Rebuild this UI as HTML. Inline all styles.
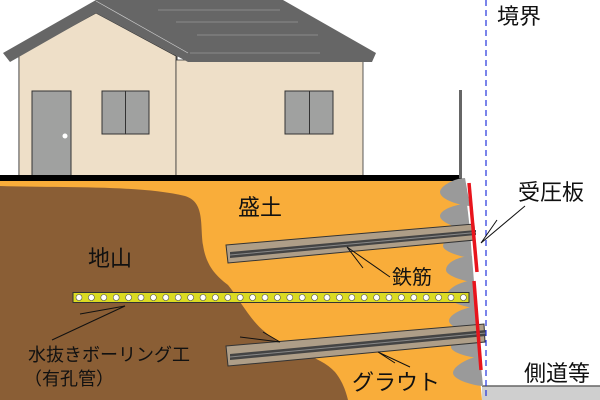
<!DOCTYPE html>
<html><head><meta charset="utf-8"><style>
html,body{margin:0;padding:0;background:#fff}
svg{display:block}
text{font-family:"Liberation Sans","Noto Sans CJK JP",sans-serif;fill:#111}
</style></head><body>
<svg width="600" height="400" viewBox="0 0 600 400" xmlns="http://www.w3.org/2000/svg">
<polygon points="0,178 462,178 482,400 0,400" fill="#f9ad3a"/>
<path d="M0,186 C60,188 140,185 185,196 C205,202 200,225 203,245 C206,265 215,275 228,285 C240,300 250,320 265,332 C285,350 320,355 335,372 C343,382 346,392 348,400 L0,400 Z" fill="#8a5e35"/>
<rect x="482" y="386" width="118" height="14" fill="#cfcfcf"/>
<line x1="482" y1="386" x2="600" y2="386" stroke="#666" stroke-width="1.5"/>
<rect x="19" y="55" width="158" height="122" fill="#eedfc8" stroke="#333" stroke-width="1"/>
<polygon points="19,55 96,13 176,56 176,177 19,177" fill="#eedfc8" stroke="#333" stroke-width="0.8"/>
<rect x="176" y="60" width="187" height="117" fill="#eedfc8" stroke="#333" stroke-width="0.8"/>
<polygon points="96,0 283,0 376,53 372,62 188,62 96,13 10,62 3,53" fill="#666"/>
<line x1="96" y1="1" x2="188" y2="53" stroke="#ccc" stroke-width="0.7"/>
<line x1="158" y1="10" x2="280" y2="10" stroke="#999" stroke-width="0.8"/>
<line x1="176" y1="22" x2="298" y2="22" stroke="#999" stroke-width="0.8"/>
<line x1="197" y1="35" x2="318" y2="35" stroke="#999" stroke-width="0.8"/>
<line x1="190" y1="53" x2="320" y2="53" stroke="#999" stroke-width="0.8"/>
<rect x="32" y="91" width="39" height="85" fill="#a0a1a0" stroke="#333"/>
<circle cx="65" cy="136" r="2.5" fill="#fff"/>
<rect x="102" y="91" width="47" height="43" fill="#a0a1a0" stroke="#333"/>
<line x1="125.5" y1="91" x2="125.5" y2="134" stroke="#333"/>
<rect x="285" y="91" width="48" height="43" fill="#a0a1a0" stroke="#333"/>
<line x1="309.5" y1="91" x2="309.5" y2="134" stroke="#333"/>
<rect x="0" y="175" width="462" height="6" fill="#000"/>
<rect x="459" y="90" width="3" height="88" fill="#666"/>
<g fill="#9a9a9a">
<path d="M465,178 C455,178 440,186 440,192 C440,200 462,206 470,206 Z"/>
<path d="M467,204 C455,204 440,210 440,216 C440,223 462,230 470,230 Z"/>
<path d="M470,230 C458,232 443,240 443,246 C443,252 465,258 472,258 Z"/>
<path d="M472,256 C460,256 446,262 446,270 C446,276 466,282 474,282 Z"/>
<path d="M473,280 C460,282 447,288 447,296 C447,302 468,308 476,308 Z"/>
<path d="M476,306 C464,308 449,314 449,321 C449,327 470,334 478,334 Z"/>
<path d="M478,332 C466,334 451,340 451,347 C451,353 472,358 480,358 Z"/>
<path d="M480,356 C468,358 453,366 453,373 C453,380 475,386 483,386 Z"/>
</g>
<polygon points="226,245 474,224 475,240 228,263" fill="#ae9e88" stroke="#333" stroke-width="1"/>
<polygon points="230,252 476,230 476,235 230,258" fill="#444"/>
<line x1="230" y1="255" x2="476" y2="232.5" stroke="#888" stroke-width="1"/>
<polygon points="226,346 484,324 485,342 228,366" fill="#ae9e88" stroke="#333" stroke-width="1"/>
<polygon points="230,354 486,330 486,336 230,360" fill="#444"/>
<line x1="230" y1="357" x2="486" y2="333" stroke="#888" stroke-width="1"/>
<rect x="73" y="292.5" width="396" height="10" fill="#dbdb22" stroke="#333" stroke-width="1"/>
<line x1="469" y1="183" x2="477" y2="272" stroke="#e8141c" stroke-width="3.5"/>
<line x1="474" y1="281" x2="481" y2="370" stroke="#e8141c" stroke-width="3.5"/>
<line x1="486" y1="0" x2="486" y2="400" stroke="#2233dd" stroke-width="1.2" stroke-dasharray="6,4"/>
<g stroke="#111" stroke-width="1" fill="none">
<polyline points="525,206 481,243 497,220"/>
<polyline points="363,268 347,247 390,277"/>
<polyline points="52,340 125,306 80,314"/>
<polyline points="240,337 280,342 263,332"/>
<polyline points="395,363 378,352 410,367"/>
</g>
<text x="238" y="215" font-size="22">盛土</text>
<text x="88" y="266" font-size="22">地山</text>
<text x="392" y="284" font-size="20">鉄筋</text>
<text x="518" y="200" font-size="22">受圧板</text>
<text x="497" y="24" font-size="22">境界</text>
<text x="524" y="381" font-size="22">側道等</text>
<text x="352" y="390" font-size="22">グラウト</text>
<text x="28" y="361" font-size="18">水抜きボーリング工</text>
<text x="24" y="385" font-size="18">（有孔管）</text>
<g fill="#fff" stroke="#555" stroke-width="0.6">
<circle cx="79" cy="297.5" r="3"/><circle cx="91.4" cy="297.5" r="3"/><circle cx="103.8" cy="297.5" r="3"/><circle cx="116.2" cy="297.5" r="3"/><circle cx="128.6" cy="297.5" r="3"/><circle cx="141" cy="297.5" r="3"/><circle cx="153.4" cy="297.5" r="3"/><circle cx="165.8" cy="297.5" r="3"/><circle cx="178.2" cy="297.5" r="3"/><circle cx="190.6" cy="297.5" r="3"/><circle cx="203" cy="297.5" r="3"/><circle cx="215.4" cy="297.5" r="3"/><circle cx="227.8" cy="297.5" r="3"/><circle cx="240.2" cy="297.5" r="3"/><circle cx="252.6" cy="297.5" r="3"/><circle cx="265" cy="297.5" r="3"/><circle cx="277.4" cy="297.5" r="3"/><circle cx="289.8" cy="297.5" r="3"/><circle cx="302.2" cy="297.5" r="3"/><circle cx="314.6" cy="297.5" r="3"/><circle cx="327" cy="297.5" r="3"/><circle cx="339.4" cy="297.5" r="3"/><circle cx="351.8" cy="297.5" r="3"/><circle cx="364.2" cy="297.5" r="3"/><circle cx="376.6" cy="297.5" r="3"/><circle cx="389" cy="297.5" r="3"/><circle cx="401.4" cy="297.5" r="3"/><circle cx="413.8" cy="297.5" r="3"/><circle cx="426.2" cy="297.5" r="3"/><circle cx="438.6" cy="297.5" r="3"/><circle cx="451" cy="297.5" r="3"/><circle cx="463.4" cy="297.5" r="3"/>
</g>
</svg>
</body></html>
